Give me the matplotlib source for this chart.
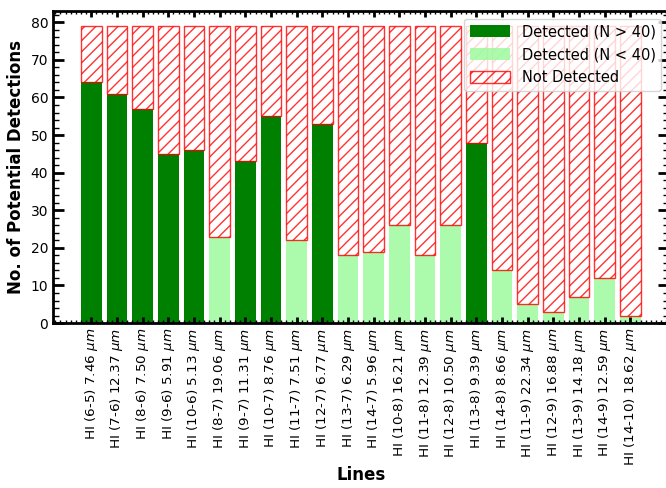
import matplotlib
matplotlib.use("Agg")
import matplotlib.pyplot as plt
import numpy as np
from matplotlib.ticker import MultipleLocator

lines = ["HI (6-5) 7.46", "HI (7-6) 12.37", "HI (8-6) 7.50", "HI (9-6) 5.91",
         "HI (10-6) 5.13", "HI (8-7) 19.06", "HI (9-7) 11.31", "HI (10-7) 8.76",
         "HI (11-7) 7.51", "HI (12-7) 6.77", "HI (13-7) 6.29", "HI (14-7) 5.96",
         "HI (10-8) 16.21", "HI (11-8) 12.39", "HI (12-8) 10.50", "HI (13-8) 9.39",
         "HI (14-8) 8.66", "HI (11-9) 22.34", "HI (12-9) 16.88", "HI (13-9) 14.18",
         "HI (14-9) 12.59", "HI (14-10) 18.62"]
detected = [64, 61, 57, 45, 46, 23, 43, 55, 22, 53, 18, 19, 26, 18, 26, 48,
            14, 5, 3, 7, 12, 2]
total = 79

detected = np.array(detected)
not_detected = total - detected
x = np.arange(len(lines))
strong = detected > 40

fig, ax = plt.subplots(figsize=(6.66, 4.88), dpi=100)
# right edge of the axes sits just past the image edge in the reference
fig.subplots_adjust(left=0.0796, right=1.004, top=0.977, bottom=0.338)

ax.bar(x[strong], detected[strong], width=0.8, color='green', label='Detected (N > 40)')
ax.bar(x[~strong], detected[~strong], width=0.8, color='palegreen', alpha=0.8,
       label='Detected (N < 40)')
ax.bar(x, not_detected, width=0.8, bottom=detected, fill=False, edgecolor='red',
       hatch='///', alpha=0.8, label='Not Detected')

ax.set_xticks(x)
ax.set_xticklabels([l + r' $\mu m$' for l in lines], rotation=90, fontsize=9.7)
ax.set_ylim(0, 82.95)

ax.set_xlabel('Lines', fontweight='bold', fontsize=12, labelpad=0)
ax.set_ylabel('No. of Potential Detections', fontweight='bold', fontsize=12)

ax.yaxis.set_major_locator(MultipleLocator(10))
ax.yaxis.set_minor_locator(MultipleLocator(2))
ax.xaxis.set_minor_locator(MultipleLocator(0.2))
ax.tick_params(which='both', direction='in', top=True, right=True)
ax.tick_params(axis='y', which='major', length=8, width=2, labelsize=10)
ax.tick_params(axis='y', which='minor', length=4, width=1)
ax.tick_params(axis='x', which='major', length=4, width=2)
ax.tick_params(axis='x', which='minor', length=2, width=1)
for s in ax.spines.values():
    s.set_linewidth(2)

ax.legend(loc='upper right', fontsize=10.5, handlelength=2.75, handleheight=0.9,
          labelspacing=0.55)

plt.savefig('out.png', dpi=100)
